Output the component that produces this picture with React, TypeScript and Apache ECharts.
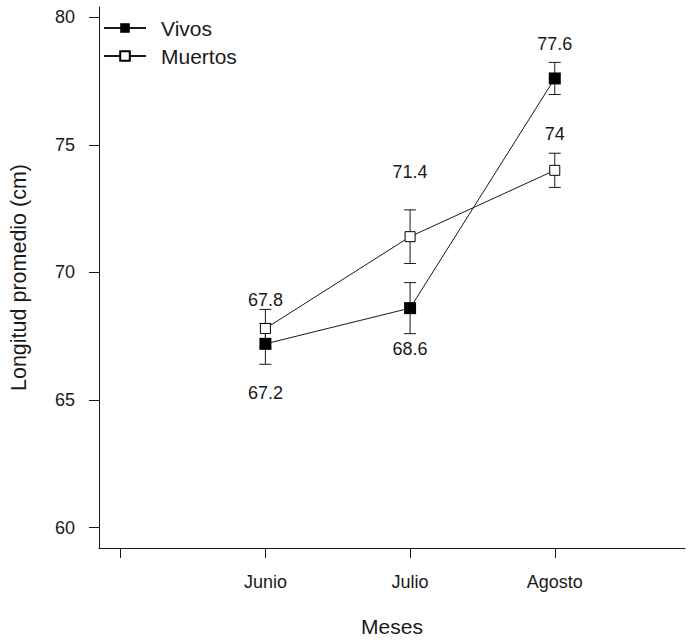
import React, { useEffect, useRef } from "react";
import * as echarts from "echarts";

const months = ["Junio", "Julio", "Agosto"];
const monthPos = [1, 2, 3];
const vivos = [67.2, 68.6, 77.6];
const vivosErr = [0.8, 1.0, 0.63];
const muertos = [67.8, 71.4, 74];
const muertosErr = [0.75, 1.05, 0.67];
const yTicks = [60, 65, 70, 75, 80];
const xTicks = [0, 1, 2, 3];

// label vertical offsets (px) relative to each point
const vivosLabelDy = [49, 41, -34];
const muertosLabelDy = [-29, -65, -36];

const FONT = "Liberation Sans, Arial, sans-serif";
const INK = "#1a1a1a";

function errorBars(values: number[], errs: number[]) {
  return values.map((v, i) => [monthPos[i], v, errs[i]]);
}

const renderErr = (params: any, api: any) => {
  const x = api.value(0);
  const y = api.value(1);
  const e = api.value(2);
  const top = api.coord([x, y + e]);
  const bot = api.coord([x, y - e]);
  const hw = 6;
  const style = { stroke: INK, lineWidth: 1 };
  return {
    type: "group",
    children: [
      { type: "line", shape: { x1: top[0], y1: top[1], x2: bot[0], y2: bot[1] }, style },
      { type: "line", shape: { x1: top[0] - hw, y1: top[1], x2: top[0] + hw, y2: top[1] }, style },
      { type: "line", shape: { x1: bot[0] - hw, y1: bot[1], x2: bot[0] + hw, y2: bot[1] }, style },
    ],
  };
};

export default function App() {
  const ref = useRef<HTMLDivElement>(null);
  useEffect(() => {
    if (!ref.current) return;
    const chart = echarts.init(ref.current, undefined, { renderer: "svg" });
    const mkData = (vals: number[], dys: number[]) =>
      vals.map((v, i) => ({
        value: [monthPos[i], v],
        label: { show: true, position: "inside", offset: [0, dys[i]] },
      }));
    chart.setOption({
      animation: false,
      textStyle: { fontFamily: FONT },
      grid: { left: 97, right: 6, top: 7, bottom: 89, containLabel: false },
      legend: {
        orient: "vertical",
        left: 98,
        top: 12,
        itemWidth: 42,
        itemHeight: 12,
        itemGap: 6,
        textStyle: { fontSize: 21, color: INK, fontFamily: FONT, lineHeight: 22, padding: [0, 0, 0, 10] },
        data: ["Vivos", "Muertos"],
      },
      xAxis: {
        type: "value",
        min: -0.15,
        max: 3.9,
        name: "Meses",
        nameLocation: "middle",
        nameGap: 68,
        nameTextStyle: { fontSize: 21, color: INK, fontFamily: FONT },
        axisLine: { show: true, onZero: false, lineStyle: { color: INK, width: 1 } },
        axisTick: { show: true, length: 10, lineStyle: { color: INK }, customValues: xTicks },
        axisLabel: {
          fontSize: 18,
          color: INK,
          margin: 25,
          fontFamily: FONT,
          customValues: monthPos,
          formatter: (v: number) => months[Math.round(v) - 1] ?? "",
        },
        splitLine: { show: false },
      },
      yAxis: {
        type: "value",
        min: 59.2,
        max: 80.4,
        name: "Longitud promedio (cm)",
        nameLocation: "middle",
        nameGap: 69,
        nameRotate: 90,
        nameTextStyle: { fontSize: 21.5, color: INK, fontFamily: FONT },
        axisLine: { show: true, onZero: false, lineStyle: { color: INK, width: 1 } },
        axisTick: { show: true, length: 10, lineStyle: { color: INK }, customValues: yTicks },
        axisLabel: { fontSize: 18, color: INK, margin: 24, fontFamily: FONT, customValues: yTicks },
        splitLine: { show: false },
      },
      series: [
        {
          name: "Vivos",
          type: "line",
          data: mkData(vivos, vivosLabelDy),
          symbol: "rect",
          symbolSize: 12,
          itemStyle: { color: "#000", borderColor: "#000", borderWidth: 0 },
          lineStyle: { color: INK, width: 1 },
          label: { fontSize: 18, color: INK, fontFamily: FONT, formatter: (p: any) => String(p.value[1]) },
          z: 3,
        },
        {
          name: "Muertos",
          type: "line",
          data: mkData(muertos, muertosLabelDy),
          symbol: "rect",
          symbolSize: 10,
          itemStyle: { color: "#fff", borderColor: "#000", borderWidth: 1 },
          lineStyle: { color: INK, width: 1 },
          label: { fontSize: 18, color: INK, fontFamily: FONT, formatter: (p: any) => String(p.value[1]) },
          z: 3,
        },
        {
          type: "custom",
          renderItem: renderErr,
          data: errorBars(vivos, vivosErr),
          encode: { x: 0, y: 1 },
          z: 2,
          silent: true,
        },
        {
          type: "custom",
          renderItem: renderErr,
          data: errorBars(muertos, muertosErr),
          encode: { x: 0, y: 1 },
          z: 2,
          silent: true,
        },
      ],
    });
    return () => chart.dispose();
  }, []);
  return <div ref={ref} style={{ position: "absolute", left: 0, top: 0, width: 691, height: 642 }} />;
}
